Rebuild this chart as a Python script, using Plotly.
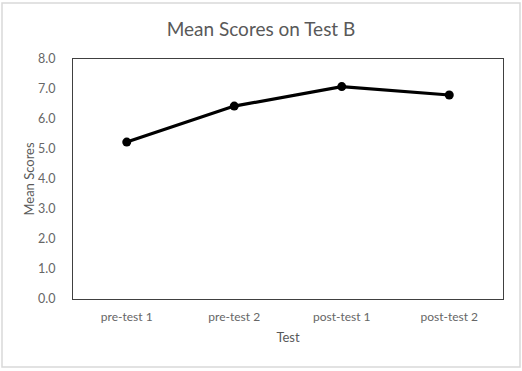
import plotly.graph_objects as go

categories = ["pre-test 1", "pre-test 2", "post-test 1", "post-test 2"]
mean_scores = [5.23, 6.43, 7.08, 6.80]
y_ticks = [0, 1, 2, 3, 4, 5, 6, 7, 8]
y_tick_labels = ["0.0", "1.0", "2.0", "3.0", "4.0", "5.0", "6.0", "7.0", "8.0"]

FONT = "Lato, Open Sans, sans-serif"
GRAY = "#666666"

fig = go.Figure()
fig.add_trace(go.Scatter(
    x=categories, y=mean_scores, mode="lines+markers",
    line=dict(color="black", width=3.2),
    marker=dict(color="black", size=9),
    showlegend=False,
))

L, R, T, B = 73, 19, 59, 72
W, H = 522, 371
pw, ph = W - L - R, H - T - B

fig.update_layout(
    width=W, height=H,
    margin=dict(l=L, r=R, t=T, b=B),
    paper_bgcolor="white", plot_bgcolor="white",
    title=dict(text="Mean Scores on Test B", x=0.5, xanchor="center",
               y=1 - 29 / H, yanchor="middle",
               font=dict(family=FONT, size=19, color="#595959")),
    font=dict(family=FONT, color=GRAY),
)
fig.update_xaxes(
    type="category", range=[-0.5, 3.5],
    showline=True, mirror=True, linecolor="#404040", linewidth=1,
    showgrid=False, ticks="", ticklabelstandoff=7,
    tickfont=dict(size=12, color=GRAY),
    title=dict(text="Test", font=dict(size=13, color="#595959"), standoff=9),
)
fig.update_yaxes(
    range=[0, 8], tickvals=y_ticks, ticktext=y_tick_labels,
    showline=True, mirror=True, linecolor="#404040", linewidth=1,
    showgrid=False, ticks="", zeroline=False, ticklabelstandoff=14,
    tickfont=dict(size=12.5, color=GRAY),
    title=dict(text="Mean Scores", font=dict(size=13, color="#595959"), standoff=0),
)
# outer chart border
fig.add_shape(type="rect", xref="paper", yref="paper",
              x0=(2 - L) / pw, x1=(520 - L) / pw,
              y0=(H - B - 367) / ph, y1=(H - B - 3) / ph,
              line=dict(color="#d9d9d9", width=1.5), layer="below")

fig.write_html("out.html")
